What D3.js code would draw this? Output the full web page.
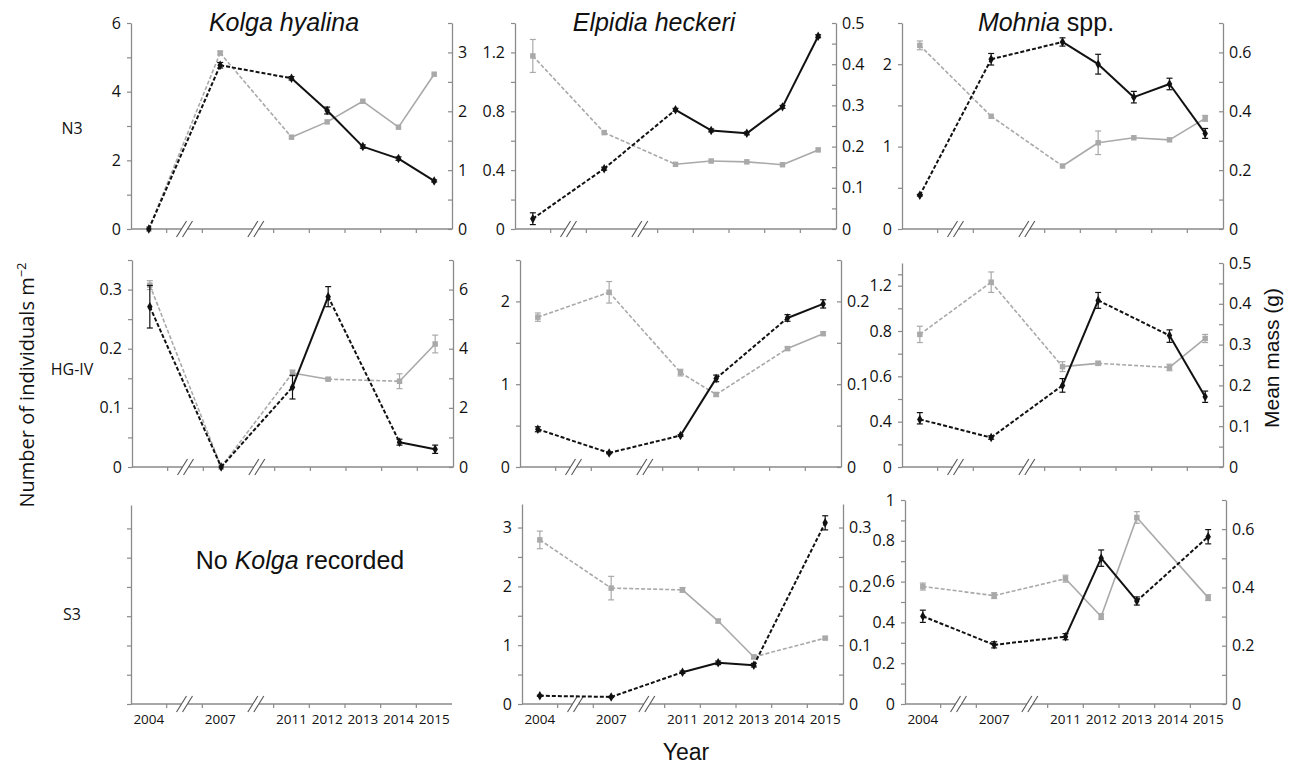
<!DOCTYPE html>
<html>
<head>
<meta charset="utf-8">
<script src="https://cdn.jsdelivr.net/npm/d3@7"></script>
<style>
  body { margin: 0; background: #fff; }
  svg { display: block; }
  .tick text { font-family: "Open Sans", sans-serif; fill: #111; }
</style>
</head>
<body>
<div id="chart"></div>
<script>
(function()
{
    // ---- data ----
    var years = ["2004", "2007", "2011", "2012", "2013", "2014", "2015"];
    var slots = ["2004", "gapA", "2007", "gapB", "2011", "2012", "2013", "2014", "2015"];
    var gapSlots = ["gapA", "gapB"];

    var speciesTitles = ["Kolga hyalina", "Elpidia heckeri", "Mohnia"];
    var stationNames = ["N3", "HG-IV", "S3"];

    // black = individuals m-2 (left axis), grey = mean mass (right axis)
    var kolgaN3Density   = [0, 4.77, 4.39, 3.45, 2.40, 2.05, 1.40];
    var kolgaN3DensErr   = [0, 0.08, 0.05, 0.10, 0.05, 0.05, 0.03];
    var kolgaN3Mass      = [0, 2.99, 1.56, 1.82, 2.17, 1.73, 2.63];
    var kolgaN3MassErr   = [0, 0.03, 0, 0, 0, 0, 0];

    var elpidiaN3Density = [0.07, 0.41, 0.81, 0.67, 0.65, 0.83, 1.31];
    var elpidiaN3DensErr = [0.04, 0.01, 0.01, 0.01, 0.01, 0.01, 0.01];
    var elpidiaN3Mass    = [0.42, 0.234, 0.157, 0.165, 0.163, 0.156, 0.192];
    var elpidiaN3MassErr = [0.04, 0, 0, 0, 0, 0, 0];

    var mohniaN3Density  = [0.41, 2.06, 2.27, 2.00, 1.60, 1.76, 1.16];
    var mohniaN3DensErr  = [0.01, 0.07, 0.05, 0.12, 0.07, 0.07, 0.06];
    var mohniaN3Mass     = [0.624, 0.383, 0.214, 0.293, 0.31, 0.303, 0.376];
    var mohniaN3MassErr  = [0.015, 0, 0, 0.04, 0, 0, 0.01];

    var kolgaHGDensity   = [0.271, 0, 0.135, 0.288, null, 0.042, 0.03];
    var kolgaHGDensErr   = [0.036, 0, 0.02, 0.017, null, 0.005, 0.007];
    var kolgaHGMass      = [6.15, 0, 3.18, 2.97, null, 2.9, 4.16];
    var kolgaHGMassErr   = [0.15, 0, 0.1, 0.05, null, 0.25, 0.3];

    var elpidiaHGDensity = [0.456, 0.17, 0.38, 1.07, null, 1.80, 1.97];
    var elpidiaHGDensErr = [0.03, 0.01, 0.01, 0.04, null, 0.04, 0.05];
    var elpidiaHGMass    = [0.181, 0.211, 0.114, 0.0876, null, 0.143, 0.161];
    var elpidiaHGMassErr = [0.005, 0.013, 0.004, 0.002, null, 0.002, 0.002];

    var mohniaHGDensity  = [0.41, 0.26, 0.56, 1.07, null, 0.78, 0.51];
    var mohniaHGDensErr  = [0.03, 0.015, 0.03, 0.07, null, 0.03, 0.025];
    var mohniaHGMass     = [0.325, 0.453, 0.246, 0.254, null, 0.244, 0.315];
    var mohniaHGMassErr  = [0.02, 0.025, 0.012, 0.005, null, 0.008, 0.01];

    var elpidiaS3Density = [0.14, 0.12, 0.54, 0.70, 0.66, null, 3.08];
    var elpidiaS3DensErr = [0.01, 0.01, 0.02, 0.03, 0.03, null, 0.12];
    var elpidiaS3Mass    = [0.279, 0.197, 0.194, 0.141, 0.08, null, 0.112];
    var elpidiaS3MassErr = [0.015, 0.02, 0.004, 0.003, 0.003, null, 0.002];

    var mohniaS3Density  = [0.43, 0.29, 0.33, 0.715, 0.505, null, 0.82];
    var mohniaS3DensErr  = [0.03, 0.015, 0.015, 0.04, 0.02, null, 0.035];
    var mohniaS3Mass     = [0.403, 0.372, 0.43, 0.30, 0.64, null, 0.365];
    var mohniaS3MassErr  = [0.012, 0.01, 0.012, 0.01, 0.02, null, 0.01];

    // which joins between consecutive recorded years are dashed (1) or solid (0)
    var dashAllYears  = [1, 1, 0, 0, 0, 0];
    var dashHG        = [1, 1, 0, 1, 0];
    var dashHGElpMass = [1, 1, 1, 1, 0];
    var dashS3        = [1, 1, 0, 0, 1];
    var dashS3Solid   = [1, 1, 0, 0, 0];

    // odd axis of Mohnia HG-IV (labels as printed)
    var mohniaHGLeftTicks = [0, 0.4, 0.6, 0.8, 1.2];

    // ---- layout ----
    var W = 1293, H = 767;
    var PANEL_W = 321;
    var BLACK = "#111111";
    var GREY = "#a9a9a9";
    var AXIS = "#8a8a8a";

    var svg = d3.select("#chart").append("svg")
        .attr("width", W)
        .attr("height", H);
    svg.append("rect").attr("width", W).attr("height", H).attr("fill", "#fff");

    var panels = [
        { left: 131, bottom: 229, top: 23,
          leftAxis: { max: 6, step: 1, label: 2 }, rightAxis: { max: 3.5, step: 0.5, label: 1 },
          dens: kolgaN3Density, densErr: kolgaN3DensErr, mass: kolgaN3Mass, massErr: kolgaN3MassErr,
          densDash: dashAllYears, massDash: dashAllYears },
        { left: 515, bottom: 229, top: 23,
          leftAxis: { max: 1.4, step: 0.2, label: 0.4 }, rightAxis: { max: 0.5, step: 0.05, label: 0.1 },
          dens: elpidiaN3Density, densErr: elpidiaN3DensErr, mass: elpidiaN3Mass, massErr: elpidiaN3MassErr,
          densDash: dashAllYears, massDash: dashAllYears },
        { left: 902, bottom: 229, top: 23,
          leftAxis: { max: 2.5, step: 0.5, label: 1 }, rightAxis: { max: 0.7, step: 0.1, label: 0.2 },
          dens: mohniaN3Density, densErr: mohniaN3DensErr, mass: mohniaN3Mass, massErr: mohniaN3MassErr,
          densDash: dashAllYears, massDash: dashAllYears },
        { left: 132, bottom: 467, top: 260,
          leftAxis: { max: 0.35, step: 0.05, label: 0.1 }, rightAxis: { max: 7, step: 1, label: 2 },
          dens: kolgaHGDensity, densErr: kolgaHGDensErr, mass: kolgaHGMass, massErr: kolgaHGMassErr,
          densDash: dashHG, massDash: dashHG },
        { left: 520, bottom: 467, top: 260,
          leftAxis: { max: 2.5, step: 0.5, label: 1 }, rightAxis: { max: 0.25, step: 0.05, label: 0.1 },
          dens: elpidiaHGDensity, densErr: elpidiaHGDensErr, mass: elpidiaHGMass, massErr: elpidiaHGMassErr,
          densDash: dashHG, massDash: dashHGElpMass },
        { left: 902, bottom: 467, top: 263,
          leftAxis: { piecewise: mohniaHGLeftTicks, max: 1.4 }, rightAxis: { max: 0.5, step: 0.05, label: 0.1 },
          dens: mohniaHGDensity, densErr: mohniaHGDensErr, mass: mohniaHGMass, massErr: mohniaHGMassErr,
          densDash: dashHG, massDash: dashHG },
        { left: 131, bottom: 704, top: 505, xLabels: true, empty: true,
          leftAxis: { max: 6.8, step: 1, label: null } },
        { left: 522, bottom: 704, top: 504, xLabels: true,
          leftAxis: { max: 3.4, step: 0.5, label: 1 }, rightAxis: { max: 0.34, step: 0.05, label: 0.1 },
          dens: elpidiaS3Density, densErr: elpidiaS3DensErr, mass: elpidiaS3Mass, massErr: elpidiaS3MassErr,
          densDash: dashS3, massDash: dashS3 },
        { left: 905, bottom: 704, top: 500, xLabels: true,
          leftAxis: { max: 1, step: 0.1, label: 0.2 }, rightAxis: { max: 0.7, step: 0.1, label: 0.2 },
          dens: mohniaS3Density, densErr: mohniaS3DensErr, mass: mohniaS3Mass, massErr: mohniaS3MassErr,
          densDash: dashS3, massDash: dashS3Solid }
    ];

    function tickValues(spec) {
        var n = Math.floor(spec.max / spec.step + 1e-6);
        return d3.range(0, n + 1).map(function(i) { return +(i * spec.step).toFixed(4); });
    }
    function tickLabel(spec) {
        return function(v) {
            if (spec.label == null) return "";
            var r = v / spec.label;
            return Math.abs(r - Math.round(r)) < 1e-6 ? d3.format("~g")(v) : "";
        };
    }

    function makeY(spec, p) {
        if (spec.piecewise) {
            // labels sit at even spacing, top half a step above the last one
            var dom = spec.piecewise.concat([spec.max]);
            var n = spec.piecewise.length - 1 + 0.5;
            var rng = dom.map(function(d, i) {
                var f = i < spec.piecewise.length ? i / n : 1;
                return p.bottom - f * (p.bottom - p.top);
            });
            return d3.scaleLinear().domain(dom).range(rng);
        }
        return d3.scaleLinear().domain([0, spec.max]).range([p.bottom, p.top]);
    }

    function styleAxis(g) {
        g.select(".domain").attr("stroke", AXIS).attr("stroke-width", 1.3);
        g.selectAll(".tick line").attr("stroke", AXIS).attr("stroke-width", 1.2);
        g.selectAll(".tick text").style("font-size", "16px");
    }

    panels.forEach(function(p) {
        var g = svg.append("g");
        var x = d3.scaleBand().domain(slots).range([p.left, p.left + PANEL_W]).padding(0);
        var cx = function(s) { return x(s) + x.bandwidth() / 2; };

        // left axis
        var yL = makeY(p.leftAxis, p);
        var leftAxis = d3.axisLeft(yL).tickSizeOuter(0).tickSizeInner(4).tickPadding(6);
        if (p.leftAxis.piecewise) {
            var pw = p.leftAxis.piecewise;
            var mids = [];
            for (var i = 0; i < pw.length - 1; i++) mids.push((pw[i] + pw[i + 1]) / 2);
            mids.push((pw[pw.length - 1] + p.leftAxis.max) / 2);
            leftAxis.tickValues(pw.concat(mids))
                .tickFormat(function(v) { return pw.indexOf(v) >= 0 ? d3.format("~g")(v) : ""; });
        } else {
            leftAxis.tickValues(tickValues(p.leftAxis)).tickFormat(tickLabel(p.leftAxis));
        }
        g.append("g").attr("transform", "translate(" + p.left + ",0)").call(leftAxis).call(styleAxis);

        // right axis
        var yR = null;
        if (p.rightAxis) {
            yR = makeY(p.rightAxis, p);
            var rightAxis = d3.axisRight(yR).tickSizeOuter(0).tickSizeInner(-4).tickPadding(6)
                .tickValues(tickValues(p.rightAxis)).tickFormat(tickLabel(p.rightAxis));
            g.append("g").attr("transform", "translate(" + (p.left + PANEL_W) + ",0)")
                .call(rightAxis).call(styleAxis);
        }

        // x axis line with ticks at band edges
        g.append("line")
            .attr("x1", p.left).attr("x2", p.left + PANEL_W)
            .attr("y1", p.bottom).attr("y2", p.bottom)
            .attr("stroke", AXIS).attr("stroke-width", 1.3);
        g.selectAll(".xtick")
            .data(slots.slice(1).filter(function(s) { return s !== "gapB"; }))
            .enter().append("line")
            .attr("x1", function(s) { return x(s); })
            .attr("x2", function(s) { return x(s); })
            .attr("y1", p.bottom).attr("y2", p.bottom + 4)
            .attr("stroke", AXIS).attr("stroke-width", 1.2);

        // axis breaks
        gapSlots.forEach(function(s) {
            var bx = cx(s);
            g.append("rect").attr("x", bx - 3).attr("y", p.bottom - 2).attr("width", 6).attr("height", 4)
                .attr("fill", "#fff");
            [-3, 3].forEach(function(off) {
                g.append("line")
                    .attr("x1", bx + off - 5).attr("y1", p.bottom + 8)
                    .attr("x2", bx + off + 5).attr("y2", p.bottom - 8)
                    .attr("stroke", "#555").attr("stroke-width", 1.1);
            });
        });

        if (p.xLabels) {
            g.selectAll(".xlab").data(years).enter().append("text")
                .attr("x", function(s) { return cx(s); })
                .attr("y", p.bottom + 20)
                .attr("text-anchor", "middle")
                .style("font-family", "'Open Sans', sans-serif")
                .style("font-size", "13.5px")
                .attr("fill", "#111")
                .text(function(s) { return s; });
        }

        if (p.empty) return;

        drawSeries(g, x, cx, yR, p.mass, p.massErr, p.massDash, GREY, 1.6, "square");
        drawSeries(g, x, cx, yL, p.dens, p.densErr, p.densDash, BLACK, 2, "diamond");
    });

    function drawSeries(g, x, cx, y, values, errs, dashes, color, width, shape) {
        var pts = [];
        values.forEach(function(v, i) {
            if (v != null) pts.push({ year: years[i], v: v, e: errs[i] || 0 });
        });
        var line = d3.line().x(function(d) { return cx(d.year); }).y(function(d) { return y(d.v); });
        for (var i = 0; i < pts.length - 1; i++) {
            g.append("path")
                .attr("d", line([pts[i], pts[i + 1]]))
                .attr("fill", "none")
                .attr("stroke", color)
                .attr("stroke-width", width)
                .attr("stroke-dasharray", dashes[i] ? "4,2" : null);
        }
        // error bars
        pts.filter(function(d) { return d.e > 0; }).forEach(function(d) {
            var px = cx(d.year);
            var y1 = y(Math.max(0, d.v - d.e)), y2 = y(d.v + d.e);
            g.append("line").attr("x1", px).attr("x2", px).attr("y1", y1).attr("y2", y2)
                .attr("stroke", color).attr("stroke-width", 1.2);
            [y1, y2].forEach(function(yy) {
                g.append("line").attr("x1", px - 3).attr("x2", px + 3).attr("y1", yy).attr("y2", yy)
                    .attr("stroke", color).attr("stroke-width", 1.2);
            });
        });
        var sym = d3.symbol().type(shape === "square" ? d3.symbolSquare : d3.symbolDiamond)
            .size(shape === "square" ? 30 : 26);
        g.selectAll(null).data(pts).enter().append("path")
            .attr("d", sym)
            .attr("transform", function(d) { return "translate(" + cx(d.year) + "," + y(d.v) + ")"; })
            .attr("fill", color);
    }

    // ---- titles and labels ----
    var titleX = [284, 654, 1046];
    var T = "'Liberation Sans', Arial, sans-serif";
    speciesTitles.forEach(function(t, i) {
        var txt = svg.append("text")
            .attr("x", titleX[i]).attr("y", 31)
            .attr("text-anchor", "middle")
            .style("font-family", T).style("font-size", "25px")
            .attr("fill", "#111");
        txt.append("tspan").style("font-style", "italic").text(t);
        if (i === 2) txt.append("tspan").text(" spp.");
    });

    var stationY = [134, 375, 620];
    stationNames.forEach(function(s, i) {
        svg.append("text")
            .attr("x", 72).attr("y", stationY[i])
            .attr("text-anchor", "middle")
            .style("font-family", "'Open Sans', sans-serif").style("font-size", "16px")
            .attr("fill", "#111")
            .text(s);
    });

    var noK = svg.append("text")
        .attr("x", 300).attr("y", 569)
        .attr("text-anchor", "middle")
        .style("font-family", T).style("font-size", "25px")
        .attr("fill", "#111");
    noK.append("tspan").text("No ");
    noK.append("tspan").style("font-style", "italic").text("Kolga");
    noK.append("tspan").text(" recorded");

    svg.append("text")
        .attr("x", 686).attr("y", 760)
        .attr("text-anchor", "middle")
        .style("font-family", T).style("font-size", "23px")
        .attr("fill", "#111")
        .text("Year");

    var yl = svg.append("text")
        .attr("transform", "translate(34,385) rotate(-90)")
        .attr("text-anchor", "middle")
        .style("font-family", "'Open Sans', sans-serif").style("font-size", "20px")
        .attr("fill", "#111");
    yl.append("tspan").text("Number of individuals m");
    yl.append("tspan").attr("dy", -8).style("font-size", "13px").text("\u22122");

    svg.append("text")
        .attr("transform", "translate(1279,358) rotate(-90)")
        .attr("text-anchor", "middle")
        .style("font-family", T).style("font-size", "21px")
        .attr("fill", "#111")
        .text("Mean mass (g)");
})();
</script>
</body>
</html>
